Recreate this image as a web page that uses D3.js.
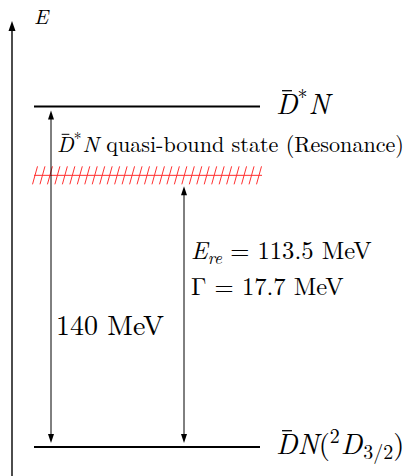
<!DOCTYPE html>
<html>
<head>
<meta charset="utf-8">
<script src="https://cdn.jsdelivr.net/npm/d3@7"></script>
</head>
<body style="margin:0;background:#fff">
<svg id="chart" width="413" height="476"></svg>
<script>
// energy levels (MeV above the DN threshold)
const levelNames = ['D*N', 'DN'];
const levelEnergies = [140, 0];
// resonance: hatch drawn at ~111.7 in the picture, quoted value 113.5
const resonanceLevel = 111.7;
const resonanceLabels = ['113.5 MeV', '17.7 MeV'];
const gapLabel = '140 MeV';

const width = 413, height = 476;
const font = '"Latin Modern Roman"';
const svg = d3.select('#chart');

// vertical energy scale
const y = d3.scaleLinear().domain([0, 140]).range([447, 106.5]);
const x = d3.scaleLinear().domain([0, 1]).range([34, 260]);

// arrowhead helper: tip at (cx, ty), pointing up (dir=-1) or down (dir=1)
function head(cx, ty, dir, len, hw) {
  svg.append('path')
    .attr('d', `M${cx},${ty} L${cx - hw},${ty - dir * len} L${cx + hw},${ty - dir * len} Z`)
    .attr('fill', '#000');
}

function addText(px, py, size) {
  return svg.append('text')
    .attr('x', px).attr('y', py)
    .attr('font-size', size)
    .style('font-family', font)
    .attr('fill', '#000');
}

// bar over the character at index ci of a text element
function overbar(t, ci, size) {
  const n = t.node();
  const s = n.getStartPositionOfChar(ci);
  const e = n.getEndPositionOfChar(ci);
  const w = e.x - s.x;
  svg.append('line')
    .attr('x1', s.x + w * 0.28).attr('x2', s.x + w * 0.74)
    .attr('y1', s.y - size * 0.8).attr('y2', s.y - size * 0.8)
    .attr('stroke', '#000').attr('stroke-width', size * 0.045);
}

// E axis
svg.append('line')
  .attr('x1', 12).attr('x2', 12)
  .attr('y1', height).attr('y2', 28)
  .attr('stroke', '#000').attr('stroke-width', 1.4);
head(12, 21, -1, 10, 3.5);
addText(34, 24, 21).attr('font-style', 'italic').text('E');

// level lines
svg.selectAll('line.level')
  .data(levelEnergies)
  .join('line')
  .attr('class', 'level')
  .attr('x1', x(0)).attr('x2', x(1))
  .attr('y1', d => y(d)).attr('y2', d => y(d))
  .attr('stroke', '#000').attr('stroke-width', 2.2);

// resonance hatch
const hatch = svg.append('g').attr('stroke', '#ff3030').attr('stroke-width', 1);
const ry = y(resonanceLevel);
hatch.append('line')
  .attr('x1', x(0)).attr('x2', x(1) + 2)
  .attr('y1', ry).attr('y2', ry);
const nSlash = 31;
hatch.selectAll('line.slash')
  .data(d3.range(nSlash))
  .join('line')
  .attr('class', 'slash')
  .attr('x1', i => x(0) + 1 + i * (x(1) - x(0) - 2) / (nSlash - 1) - 2.5)
  .attr('x2', i => x(0) + 1 + i * (x(1) - x(0) - 2) / (nSlash - 1) + 2.5)
  .attr('y1', ry + 9).attr('y2', ry - 9);

// double arrows
function dblArrow(ax, y0, y1) {
  svg.append('line')
    .attr('x1', ax).attr('x2', ax)
    .attr('y1', y0 + 6).attr('y2', y1 - 6)
    .attr('stroke', '#000').attr('stroke-width', 1);
  head(ax, y0, -1, 9, 3);
  head(ax, y1, 1, 9, 3);
}
dblArrow(51, y(levelEnergies[0]) + 4, y(levelEnergies[1]) - 4);
dblArrow(184, ry + 11, y(levelEnergies[1]) - 4);

// level labels
const big = 28.5, small = big * 0.7;
const upperLabel = addText(276, y(levelEnergies[0]) + 7, big);
upperLabel.append('tspan').attr('font-style', 'italic').text('D');
upperLabel.append('tspan').attr('font-size', small).attr('dy', -10).text('*');
upperLabel.append('tspan').attr('font-style', 'italic').attr('dy', 10).attr('dx', 1).text('N');
overbar(upperLabel, 0, big);

const lowerLabel = addText(276, y(levelEnergies[1]) + 6.5, big);
lowerLabel.append('tspan').attr('font-style', 'italic').text('DN');
lowerLabel.append('tspan').text('(');
lowerLabel.append('tspan').attr('font-size', small).attr('dy', -11).text('2');
lowerLabel.append('tspan').attr('font-style', 'italic').attr('dy', 11).attr('dx', 1).text('D');
lowerLabel.append('tspan').attr('font-size', small).attr('dy', 5).attr('dx', 1).text('3/2');
lowerLabel.append('tspan').attr('dy', -5).text(')');
overbar(lowerLabel, 0, big);

// resonance description
const qs = 22.1;
const qLabel = addText(57, 152, qs);
qLabel.append('tspan').attr('font-style', 'italic').text('D');
qLabel.append('tspan').attr('font-size', qs * 0.7).attr('dy', -8).text('*');
qLabel.append('tspan').attr('font-style', 'italic').attr('dy', 8).attr('dx', 1).text('N');
qLabel.append('tspan').text(' quasi-bound state (Resonance)');
overbar(qLabel, 0, qs);

// gap label
addText(56, 335, 28).text(gapLabel);

// resonance values
const es = 24.6;
const eLabel = addText(191, 259, es);
eLabel.append('tspan').attr('font-style', 'italic').text('E');
eLabel.append('tspan').attr('font-style', 'italic').attr('font-size', es * 0.7).attr('dy', 5).text('re');
eLabel.append('tspan').attr('dy', -5).text(' = ' + resonanceLabels[0]);

addText(191, 295, es).text('\u0393 = ' + resonanceLabels[1]);
</script>
</body>
</html>
